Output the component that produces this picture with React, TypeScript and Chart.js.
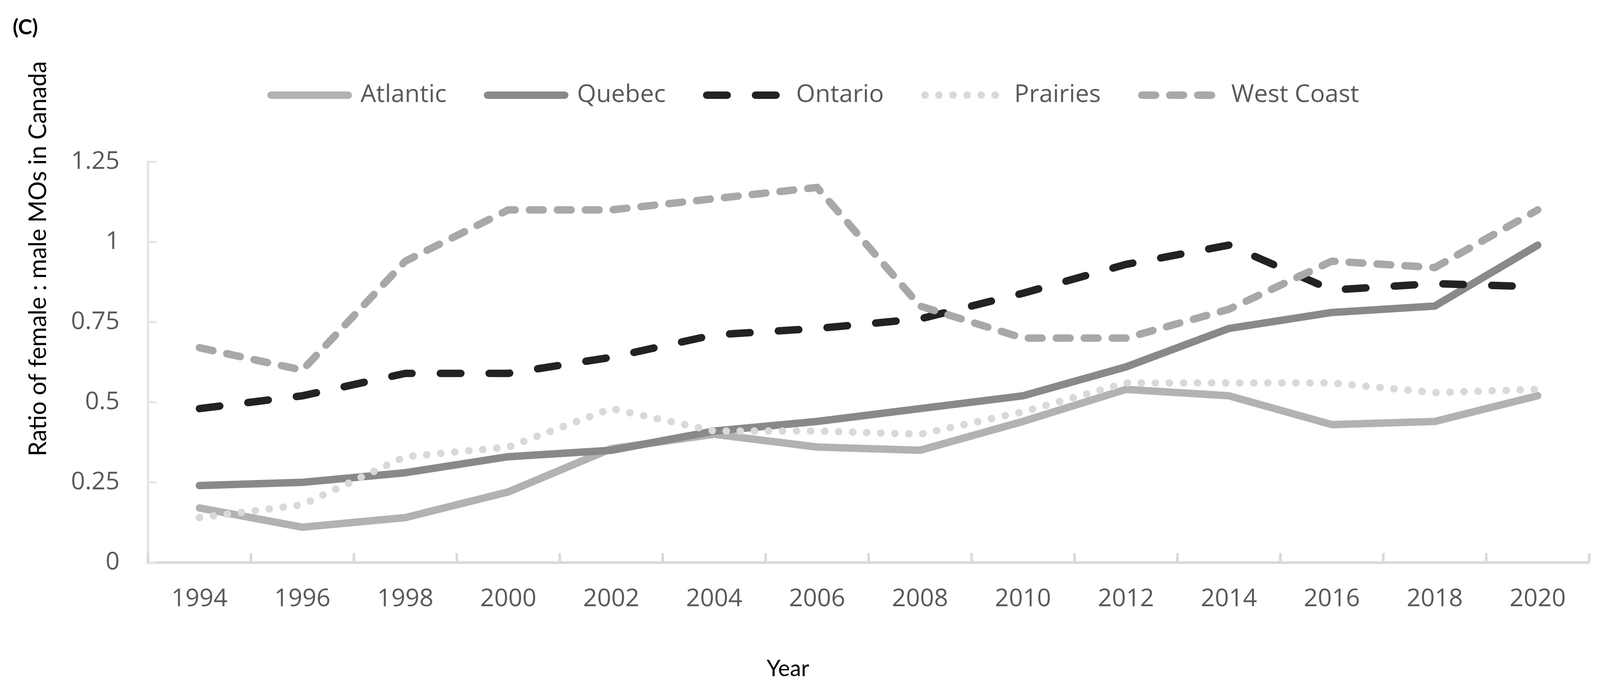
import React, { useEffect, useRef } from "react";
import { Chart, registerables } from "chart.js";

Chart.register(...registerables);

// ---- data ----
const years = ["1994", "1996", "1998", "2000", "2002", "2004", "2006", "2008", "2010", "2012", "2014", "2016", "2018", "2020"];
const atlantic = [0.17, 0.11, 0.14, 0.22, 0.355, 0.40, 0.36, 0.35, 0.44, 0.54, 0.52, 0.43, 0.44, 0.52];
const quebec = [0.24, 0.25, 0.28, 0.33, 0.35, 0.41, 0.44, 0.48, 0.52, 0.61, 0.73, 0.78, 0.80, 0.99];
const ontario = [0.48, 0.52, 0.59, 0.59, 0.64, 0.71, 0.73, 0.76, 0.84, 0.93, 0.99, 0.85, 0.87, 0.86];
const prairies = [0.14, 0.18, 0.33, 0.36, 0.48, 0.41, 0.41, 0.40, 0.47, 0.56, 0.56, 0.56, 0.53, 0.54];
const westCoast = [0.67, 0.60, 0.94, 1.10, 1.10, 1.135, 1.17, 0.80, 0.70, 0.70, 0.79, 0.94, 0.92, 1.10];
const seriesNames = ["Atlantic", "Quebec", "Ontario", "Prairies", "West Coast"];
const yTickLabels = ["0", "0.25", "0.5", "0.75", "1", "1.25"];
const panelLabel = "(C)";
const xTitle = "Year";
const yTitle = "Ratio of female : male MOs in Canada";

// ---- layout / style (reference pixel units, scaled to the viewport) ----
const W = 4293;
const H = 1773;
const PLOT_LEFT = 397;
const PLOT_RIGHT_PAD = 29;
const PLOT_TOP = 414;
const PLOT_BOTTOM = 1439;
const LEGEND_TOP = 107;
const LEGEND_SHIFT = 55;
const TEXT = "#595959";

export default function App() {
  const canvasRef = useRef<HTMLCanvasElement | null>(null);

  useEffect(() => {
    if (!canvasRef.current) return;
    const vw = window.innerWidth || W;
    const vh = window.innerHeight || H;
    const kx = vw / W;
    const ky = vh / H;
    const k = Math.min(kx, ky);
    const tickFont = { family: "'Open Sans', sans-serif", size: 66 * k };

    const styles = [
      { color: "#b2b2b2", dash: [] as number[] },
      { color: "#898989", dash: [] as number[] },
      { color: "#222222", dash: [55 * k, 76 * k] },
      { color: "#d9d9d9", dash: [0.5 * k, 37.2 * k] },
      { color: "#a8a8a8", dash: [37 * k, 38 * k] },
    ];
    const values = [atlantic, quebec, ontario, prairies, westCoast];
    const datasets = values.map((d, i) => ({
      label: seriesNames[i],
      data: d,
      borderColor: styles[i].color,
      backgroundColor: styles[i].color,
      borderWidth: 20 * k,
      borderDash: styles[i].dash,
      borderCapStyle: "round" as const,
      borderJoinStyle: "round" as const,
      pointRadius: 0,
      pointHoverRadius: 0,
      tension: 0,
      fill: false,
      order: values.length - i,
    }));

    const decorPlugin = {
      id: "decor",
      afterInit(chart: any) {
        const legend = chart.legend;
        if (legend) {
          const origFit = legend.fit.bind(legend);
          legend.fit = function () {
            origFit();
            this.height = (PLOT_TOP - LEGEND_TOP) * ky;
          };
        }
      },
      afterLayout(chart: any) {
        const legend = chart.legend;
        if (legend) {
          legend.left += LEGEND_SHIFT * kx;
          legend.right += LEGEND_SHIFT * kx;
        }
      },
      beforeDatasetsDraw(chart: any) {
        const { ctx, chartArea } = chart;
        const xs = chart.scales.x;
        const ys = chart.scales.y;
        ctx.save();
        ctx.lineCap = "butt";
        const n = xs.getLabels().length;
        const step = (xs.right - xs.left) / n;
        ctx.strokeStyle = "#d9d9d9";
        ctx.lineWidth = 7 * k;
        ctx.beginPath();
        for (let j = 0; j <= n; j++) {
          const px = xs.left + j * step;
          ctx.moveTo(px, chartArea.bottom);
          ctx.lineTo(px, chartArea.bottom - 24 * ky);
        }
        ctx.stroke();
        ctx.strokeStyle = "#e4e4e4";
        ctx.lineWidth = 6 * k;
        ctx.beginPath();
        ys.ticks.forEach((t: any) => {
          const py = ys.getPixelForValue(t.value);
          ctx.moveTo(chartArea.left, py);
          ctx.lineTo(chartArea.left + 23 * kx, py);
        });
        ctx.stroke();
        ctx.restore();
      },
      afterDraw(chart: any) {
        const { ctx } = chart;
        ctx.save();
        ctx.fillStyle = "#000000";
        ctx.font = `bold ${57 * k}px Lato, sans-serif`;
        ctx.textAlign = "left";
        ctx.textBaseline = "alphabetic";
        ctx.fillText(panelLabel, 34 * kx, 88 * ky);
        ctx.font = `${60 * k}px Lato, sans-serif`;
        ctx.textAlign = "center";
        ctx.fillText(xTitle, 2114 * kx, 1730 * ky);
        ctx.font = "100px Lato, sans-serif";
        const w100 = ctx.measureText(yTitle).width;
        const size = Math.max(40 * k, Math.min(80 * k, (100 * 1011 * ky) / w100));
        ctx.font = `${size}px Lato, sans-serif`;
        ctx.translate(124 * kx, 662 * ky);
        ctx.rotate(-Math.PI / 2);
        ctx.textAlign = "center";
        ctx.fillText(yTitle, 0, 0);
        ctx.restore();
      },
    };

    const chart = new Chart(canvasRef.current, {
      type: "line",
      data: { labels: years, datasets },
      plugins: [decorPlugin],
      options: {
        animation: false,
        responsive: true,
        maintainAspectRatio: false,
        layout: { padding: { left: 0, right: PLOT_RIGHT_PAD * kx, top: LEGEND_TOP * ky, bottom: 0 } },
        plugins: {
          tooltip: { enabled: false },
          title: { display: false },
          legend: {
            display: true,
            position: "top",
            labels: {
              usePointStyle: true,
              pointStyle: "line",
              pointStyleWidth: 207 * k,
              boxHeight: 20 * k,
              padding: 110 * k,
              color: TEXT,
              font: tickFont,
              sort: (a: any, b: any) => a.datasetIndex - b.datasetIndex,
              generateLabels: (ch: any) => {
                const base = Chart.defaults.plugins.legend.labels.generateLabels(ch);
                return base.map((item: any) => {
                  const ds: any = ch.data.datasets[item.datasetIndex];
                  return {
                    ...item,
                    strokeStyle: ds.borderColor,
                    fillStyle: ds.borderColor,
                    lineWidth: ds.borderWidth,
                    lineDash: ds.borderDash,
                    lineCap: "round",
                    lineJoin: "round",
                    pointStyle: "line",
                  };
                });
              },
            },
          },
        },
        scales: {
          x: {
            type: "category",
            offset: true,
            grid: { display: false, drawTicks: false, offset: true },
            border: { display: true, color: "#d9d9d9", width: 7 * k },
            ticks: { color: TEXT, font: tickFont, padding: 56 * ky, maxRotation: 0, autoSkip: false },
            afterFit: (scale: any) => {
              scale.height = (H - PLOT_BOTTOM) * ky;
            },
          },
          y: {
            min: 0,
            max: 1.25,
            grid: { display: false, drawTicks: false },
            border: { display: true, color: "#e4e4e4", width: 6 * k },
            ticks: {
              stepSize: 0.25,
              color: TEXT,
              font: tickFont,
              padding: 76 * kx,
              callback: (_v: any, i: number) => yTickLabels[i],
            },
            afterFit: (scale: any) => {
              scale.width = PLOT_LEFT * kx;
            },
          },
        },
      },
    });
    return () => chart.destroy();
  }, []);

  return (
    <div style={{ position: "fixed", left: 0, top: 0, width: "100vw", height: "100vh", background: "#ffffff" }}>
      <canvas ref={canvasRef} />
    </div>
  );
}
